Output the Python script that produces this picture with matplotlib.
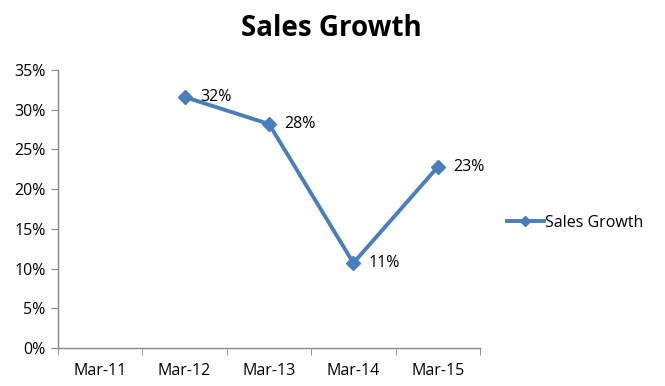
import numpy as np
import matplotlib
matplotlib.use('Agg')
import matplotlib.pyplot as plt
from matplotlib.ticker import FixedLocator
from matplotlib.lines import Line2D

plt.rcParams['font.family'] = ['Open Sans', 'DejaVu Sans']

categories = ['Mar-11', 'Mar-12', 'Mar-13', 'Mar-14', 'Mar-15']
growth = [np.nan, 31.6, 28.2, 10.7, 22.8]
labels = ['', '32%', '28%', '11%', '23%']
yticks = [0, 5, 10, 15, 20, 25, 30, 35]

fig = plt.figure(figsize=(6.65, 3.86), dpi=100)
ax = fig.add_axes([58 / 665, 38 / 386, 422 / 665, 278 / 386])

fs = 11.5
x = np.arange(len(categories))
line_color = '#4A7EBB'
ax.plot(x, growth, color=line_color, lw=2.8, marker='D', markersize=7)
for xi, v, lab in zip(x, growth, labels):
    if lab:
        ax.annotate(lab, (xi, v), xytext=(11, 0), textcoords='offset points',
                    va='center', ha='left', fontsize=fs)

ax.set_xlim(-0.5, len(categories) - 0.5)
ax.set_ylim(0, 35)
ax.set_xticks(x)
ax.set_xticklabels(categories, fontsize=fs)
ax.tick_params(axis='x', length=0, pad=11)
ax.xaxis.set_minor_locator(FixedLocator(np.arange(-0.5, len(categories), 1)))
ax.tick_params(axis='x', which='minor', length=5, color='#868686')
ax.set_yticks(yticks)
ax.set_yticklabels(['%d%%' % t for t in yticks], fontsize=fs)
ax.tick_params(axis='y', length=5, color='#868686', pad=4)

for s in ['top', 'right']:
    ax.spines[s].set_visible(False)
for s in ['left', 'bottom']:
    ax.spines[s].set_color('#868686')
    ax.spines[s].set_linewidth(1)

fig.text(331 / 665, 1 - 28 / 386, 'Sales Growth', ha='center', va='center',
         fontsize=20, fontweight='bold')

handle = Line2D([], [], color=line_color, lw=2.8, marker='D', markersize=5.5)
ax.legend([handle], ['Sales Growth'], loc='center left',
          bbox_to_anchor=(1.03, 0.45), frameon=False, fontsize=fs,
          handlelength=2.3, handletextpad=0.1)

fig.savefig('out.png', dpi=100)
